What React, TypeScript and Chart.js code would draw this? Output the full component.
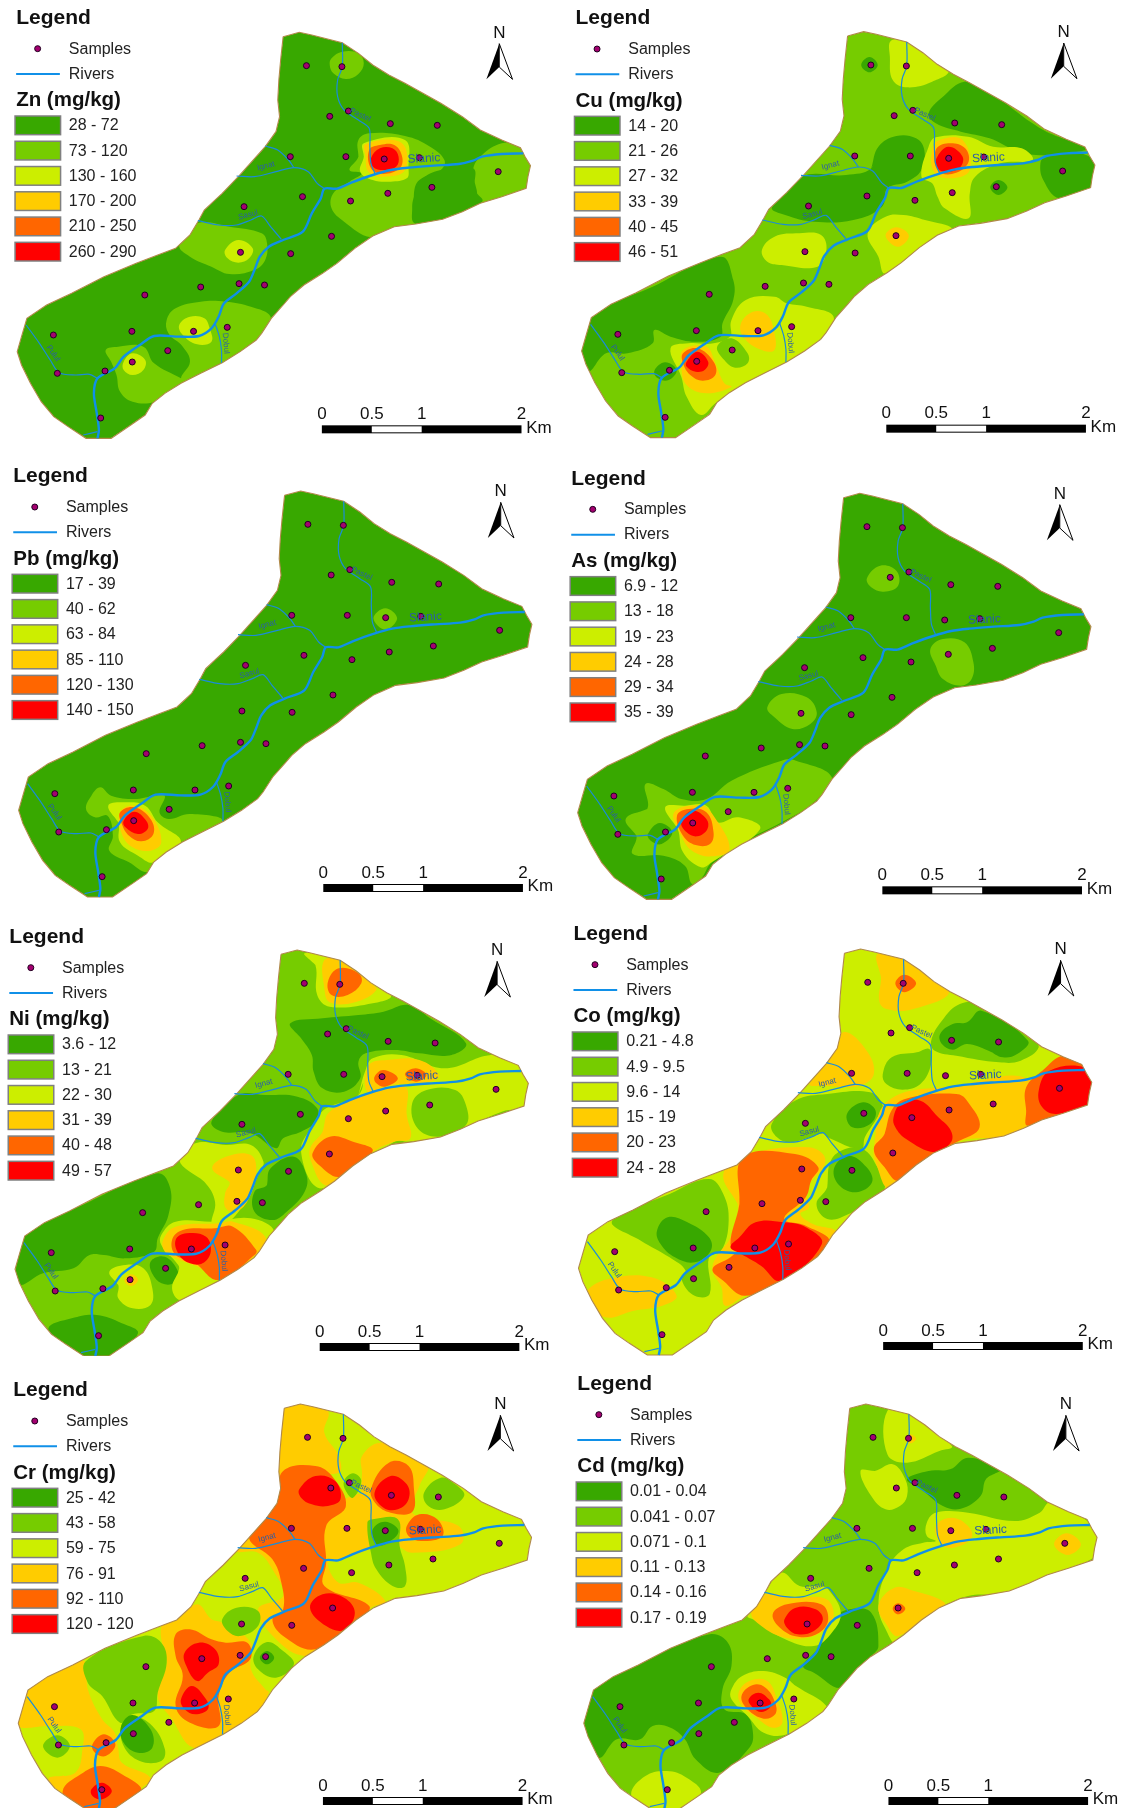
import React, { useEffect, useRef } from "react";
import { Chart, registerables } from "chart.js";
Chart.register(...registerables);

const boundary = [790,110,835,97,870,105,955,128,1000,160,1040,195,1085,225,1130,250,1180,280,1230,310,1290,350,1340,390,1400,420,1452,443,1465,470,1480,497,1473,530,1468,565,1400,590,1340,610,1290,635,1235,658,1160,672,1100,680,1040,708,990,745,940,790,900,820,848,855,810,890,790,915,757,955,730,1000,715,1020,670,1055,620,1088,560,1120,505,1150,460,1180,425,1210,405,1245,365,1275,310,1315,240,1315,190,1280,150,1250,115,1205,85,1150,60,1095,48,1055,60,1010,75,955,130,915,200,880,290,830,380,790,440,765,490,745,530,705,555,660,570,630,620,580,665,530,740,440,770,395,780,350,775,300,778,240,783,180,790,110];
const mainRiver = [1460,460,1400,462,1345,470,1320,482,1280,492,1210,497,1140,503,1090,510,1040,525,980,548,940,566,905,566,895,595,870,640,845,695,790,720,750,740,725,770,710,810,695,845,660,880,625,910,610,950,590,985,555,1008,500,1010,430,1008,390,1035,345,1070,320,1105,272,1135,262,1180,270,1240,276,1290,272,1315];
const tributaries = [
  [955,128,955,200,942,240,942,290,960,330,1000,360,1030,385,1032,440,1035,490,1047,522],
  [740,438,775,450,805,480,820,503],
  [660,528,710,530,770,515,820,503,860,515,885,550,905,566],
  [552,662,610,675,660,675,700,660,730,648,755,680,785,718],
  [600,970,612,1010,618,1050,618,1088],
  [73,975,110,1030,140,1080,165,1118,210,1125,250,1123,272,1135],
  [232,1305,272,1295],
];
const samples = [855,197,954,200,920,349,972,333,1089,371,1220,376,810,470,965,470,1072,477,1170,473,1390,515,1205,562,1082,580,978,603,844,590,681,620,925,709,811,761,671,757,738,855,667,851,560,861,404,885,634,982,540,994,368,994,149,1005,468,1052,369,1086,293,1113,160,1120,281,1254];
const riverNames: [string, number, number, number, number][] = [
  ["Slanic",1183,476,-3,12],["Pastel",1005,345,25,8],["Ignat",742,498,-15,8],["Sasul",692,645,-15,8],["Dobul",630,1030,85,8],["Pulul",148,1060,55,8],
];
const colors = ["#38a800","#76cc00","#ccee00","#ffcc00","#ff6600","#ff0000"];
const scaleTicks = [0,0.5,1,2];

type Zone = [number, number[]];
const znZones: Zone[] = [
  [1,[925,175,955,155,1000,160,1015,190,1000,222,965,237,930,220,920,195]],
  [1,[1400,430,1450,440,1490,500,1470,570,1340,610,1330,570,1320,510,1340,470]],
  [1,[1000,420,1030,400,1130,408,1200,440,1240,480,1230,510,1170,540,1155,580,1160,640,1155,680,1100,690,1035,712,960,665,925,625,930,580,975,545,1010,520,975,510,1000,470]],
  [0,[1155,590,1175,540,1230,510,1320,505,1325,570,1345,605,1235,665,1157,670,1150,625]],
  [2,[1015,430,1130,420,1140,510,1135,535,1090,545,1040,540,1005,515,1015,470]],
  [3,[1020,432,1120,428,1130,510,1070,530,1028,515,1020,470]],
  [4,[1030,450,1060,435,1100,435,1122,470,1115,505,1070,522,1035,505]],
  [5,[1035,475,1060,445,1095,445,1112,470,1105,500,1070,510,1040,500]],
  [1,[500,735,550,670,640,680,730,700,745,730,740,780,710,810,640,822,590,800,530,770]],
  [2,[628,750,665,720,705,745,695,775,665,788,635,775]],
  [1,[465,960,490,925,560,905,630,905,700,920,755,950,730,1000,715,1020,620,1090,525,1145,505,1135,530,1085,510,1040,470,1000]],
  [2,[500,975,530,950,570,955,585,985,590,1025,550,1033,510,1005]],
  [1,[295,1050,330,1040,400,1040,430,1090,505,1135,520,1145,430,1205,370,1205,335,1175,325,1125,310,1085]],
  [2,[345,1085,370,1060,405,1080,400,1110,370,1125,345,1110]],
];
const cuZones: Zone[] = [
  [0,[1020,340,1060,290,1120,245,1180,270,1340,390,1460,445,1400,460,1320,465,1260,450,1190,415,1110,395,1040,370]],
  [0,[1345,470,1420,455,1490,490,1480,565,1385,595,1340,540,1332,490]],
  [0,[880,440,930,408,985,415,1008,450,1000,510,960,545,905,565,890,620,810,660,700,665,620,645,583,622,665,530,790,525,860,505]],
  [0,[75,950,250,860,440,770,475,840,475,900,445,970,440,1010,370,1025,300,1010,255,990,250,1030,180,1060,120,1060,70,1115,48,1050]],
  [0,[832,195,855,171,878,195,855,217]],
  [0,[1192,562,1215,540,1240,562,1215,585]],
  [0,[255,1112,285,1087,317,1110,295,1140,265,1135]],
  [2,[915,122,960,125,1075,210,1030,245,960,262,920,240,912,170]],
  [2,[1020,440,1040,412,1130,410,1200,440,1280,445,1310,480,1220,490,1150,530,1135,580,1132,655,1065,625,1045,590,1030,550,1000,530]],
  [2,[555,750,590,710,660,700,720,705,735,750,710,800,610,795,570,785]],
  [2,[850,700,900,650,950,645,1010,660,1085,685,1040,708,900,820,880,770]],
  [2,[470,960,510,900,590,890,625,910,680,920,755,950,715,1020,620,1088,470,1175,425,1210,385,1245,345,1190,330,1130,300,1045,350,1030,420,1030,470,1005]],
  [1,[430,1040,470,1015,515,1060,515,1090,480,1103,450,1080]],
  [3,[495,975,530,935,570,945,590,1000,590,1050,560,1052,510,1020]],
  [3,[900,707,930,682,965,707,935,740]],
  [3,[1030,450,1050,420,1115,420,1135,510,1080,535,1035,515]],
  [4,[1040,450,1075,430,1122,445,1130,490,1085,522,1045,510]],
  [5,[1042,475,1075,440,1115,470,1105,505,1065,515,1045,505]],
  [3,[335,1050,400,1040,425,1090,450,1150,470,1160,400,1180,345,1155,330,1100]],
  [4,[335,1060,375,1045,420,1085,425,1125,390,1142,355,1125,335,1090]],
  [5,[345,1085,375,1055,405,1085,395,1110,370,1115,345,1100]],
];
const pbZones: Zone[] = [
  [1,[1042,478,1075,448,1108,478,1075,512]],
  [1,[240,1050,255,1010,280,985,310,1010,375,1020,430,1010,460,1010,445,1060,470,1080,530,1065,620,1085,505,1150,430,1210,410,1240,360,1210,305,1175,315,1130,300,1070,265,1075]],
  [2,[302,1040,345,1030,405,1040,440,1090,505,1150,430,1210,385,1190,335,1150,330,1090]],
  [3,[335,1060,375,1040,425,1075,450,1150,420,1175,370,1165,340,1125]],
  [4,[335,1060,375,1045,420,1080,428,1125,395,1147,360,1130,340,1095]],
  [5,[345,1085,375,1058,408,1085,412,1110,385,1125,350,1105]],
];
const asZones: Zone[] = [
  [1,[848,358,885,320,930,335,935,380,895,398,860,385]],
  [1,[1025,570,1060,540,1120,550,1145,610,1140,660,1110,680,1060,660,1040,620]],
  [1,[570,745,610,705,680,715,708,760,690,795,640,810,590,775]],
  [1,[175,1080,235,1050,230,975,280,990,330,1020,400,1020,470,965,610,905,650,905,750,955,700,1030,610,1090,500,1150,415,1210,385,1260,360,1275,340,1220,280,1190,195,1185,205,1130]],
  [2,[285,1045,340,1040,400,1040,430,1090,490,1075,550,1110,415,1210,385,1225,335,1180,320,1110]],
  [3,[310,1060,385,1040,420,1070,465,1170,415,1192,360,1175,330,1130]],
  [4,[318,1070,350,1050,400,1060,420,1120,410,1155,370,1158,335,1130]],
  [5,[330,1090,360,1055,400,1080,403,1110,375,1132,345,1120]],
  [0,[237,1125,270,1092,305,1120,275,1155,245,1145]],
];
const niZones: Zone[] = [
  [0,[810,325,900,310,1000,300,1070,290,1140,270,1200,310,1300,385,1260,420,1170,415,1100,405,1020,415,1000,440,1005,490,960,530,900,520,875,470,870,420,840,370]],
  [0,[590,620,665,540,740,540,830,545,885,580,880,620,840,650,790,670,770,700,700,655,620,650]],
  [0,[70,960,250,860,440,775,475,820,470,900,440,970,430,1010,350,1030,290,1020,250,1020,205,1060,120,1075,55,1110,45,1060]],
  [0,[135,1240,200,1210,270,1200,340,1225,385,1255,310,1325,240,1325,180,1290]],
  [0,[755,760,820,725,855,780,850,830,800,890,760,915,710,890,710,830,745,810]],
  [0,[420,1040,460,1025,497,1070,490,1100,460,1108,430,1085]],
  [2,[1020,465,1040,430,1120,420,1240,460,1370,420,1450,440,1480,497,1470,570,1400,590,1235,665,1140,680,1100,680,900,820,840,710,880,620,910,580,1000,540]],
  [1,[1150,565,1190,525,1270,525,1300,570,1300,630,1225,665,1165,640]],
  [2,[850,115,950,135,1090,240,1040,265,920,275,885,240,880,150]],
  [2,[500,735,545,685,630,690,700,690,735,740,725,770,690,850,650,910,610,940,590,930,600,860,570,800]],
  [2,[450,960,490,920,600,920,700,910,765,950,720,1020,610,1095,505,1155,480,1120,500,1060,490,1040,450,990]],
  [2,[305,1070,350,1050,400,1060,425,1120,420,1170,370,1180,330,1150,330,1110]],
  [3,[1030,450,1080,435,1170,435,1225,480,1200,500,1090,510,1025,530]],
  [3,[920,590,1030,535,1130,515,1135,600,1145,670,1100,680,1040,710,950,790,905,810,870,745,865,700,900,650]],
  [4,[872,715,920,665,985,680,1040,708,950,785,890,750]],
  [4,[1045,485,1070,465,1110,490,1075,515,1050,505]],
  [4,[1130,478,1160,460,1190,480,1160,500]],
  [3,[905,135,955,140,1030,200,1050,225,990,262,920,262,905,220]],
  [4,[915,200,945,160,1000,175,1008,205,970,240,925,240]],
  [3,[592,760,630,725,700,720,715,770,695,850,660,890,630,880,628,835,640,800]],
  [3,[455,975,490,935,610,925,650,920,740,965,715,1020,610,1095,560,1060,490,1030,460,1010]],
  [4,[480,975,510,945,600,940,650,935,715,1005,710,1020,610,1095,540,1040,490,1020]],
  [5,[490,975,520,955,575,965,588,1010,565,1045,530,1045,500,1020]],
  [3,[347,1095,365,1078,385,1095,365,1113]],
];
const coZones: Zone[] = [
  [1,[1030,410,1060,350,1110,300,1170,300,1300,400,1330,430,1280,470,1220,475,1100,455,1040,440]],
  [0,[1055,390,1090,360,1130,355,1170,320,1300,410,1270,450,1230,460,1190,440,1130,420,1090,437,1060,420]],
  [1,[895,510,920,460,990,445,1025,435,1030,480,1000,540,950,557,905,540]],
  [1,[585,660,650,590,740,570,860,565,895,605,880,640,845,700,835,735,740,700,730,688,640,715,600,700]],
  [0,[795,630,840,595,875,620,860,660,810,670]],
  [1,[750,770,790,735,840,735,880,790,900,855,850,890,800,930,740,945,710,900,740,850]],
  [0,[760,790,800,755,850,790,865,835,820,865,770,840]],
  [1,[140,950,300,870,410,825,450,870,465,950,445,1040,410,1060,412,1170,370,1175,335,1130,345,1100,300,1060,220,1010]],
  [0,[265,980,295,940,350,955,410,1000,415,1040,370,1075,315,1060,275,1020]],
  [3,[70,1160,130,1125,250,1120,320,1175,280,1205,200,1220,120,1240,75,1190]],
  [3,[880,150,950,165,1080,260,980,315,905,315,885,290,890,220]],
  [3,[740,470,785,385,850,440,870,510,830,545,730,545,690,540]],
  [3,[450,810,510,755,690,730,735,770,680,860,690,910,665,930,700,960,765,985,715,1055,610,1130,510,1175,455,1205,445,1150,420,1100,430,1060,470,1000,490,900]],
  [3,[870,735,910,590,1100,545,1300,525,1300,660,1235,695,1100,715,950,820,910,855,880,790]],
  [4,[1295,550,1340,500,1400,455,1460,490,1480,535,1470,600,1300,665,1295,620]],
  [5,[1330,560,1360,500,1460,490,1482,535,1470,600,1380,630,1340,610]],
  [4,[925,610,975,580,1100,570,1130,590,1165,670,1100,715,1040,745,940,830,900,790,870,735,900,690]],
  [5,[925,640,945,600,1000,590,1050,640,1085,680,1085,715,1040,745,960,705,930,670]],
  [4,[505,760,650,750,715,790,695,830,680,880,620,945,680,965,745,1015,610,1130,510,1175,450,1130,420,1095,470,1060,495,1030,470,1020,495,900]],
  [5,[495,1000,540,955,620,955,680,970,725,1020,610,1130,555,1085,500,1050,470,1030]],
  [4,[930,238,955,212,988,238,955,265]],
];
const crZones: Zone[] = [
  [3,[790,155,845,140,915,165,905,230,945,300,945,350,830,350,780,400,770,360,780,240]],
  [3,[1010,300,1060,260,1130,290,1195,325,1170,390,1150,470,1280,510,1285,565,1150,590,1110,570,1030,540,1010,430,1010,350]],
  [3,[900,480,960,430,1020,420,1040,560,950,610,915,620,945,680,1000,680,1075,735,1035,755,900,860,850,900,770,850,720,760,790,720,760,640,720,590,660,585,700,540,760,480,790,400,830,350,900,400]],
  [3,[450,810,490,795,550,745,590,790,620,800,700,860,700,940,740,1000,750,1010,715,1070,620,1135,540,1175,480,1090,440,1020,465,920]],
  [3,[80,1000,150,945,235,915,245,1000,285,1090,320,1130,330,1180,340,1220,420,1265,390,1300,330,1360,200,1360,135,1270,210,1250,230,1180,225,1120,140,1110,60,1115,50,1100]],
  [4,[790,345,880,330,930,365,965,450,910,510,910,620,905,690,1030,750,990,800,880,880,790,840,760,790,790,760,785,680,760,610,695,545,745,480,775,430]],
  [5,[835,400,880,360,935,375,950,430,915,450,870,445,840,425]],
  [5,[865,755,900,715,960,725,990,770,960,822,910,810]],
  [4,[1035,400,1085,320,1140,330,1155,400,1150,468,1090,470,1050,445]],
  [5,[1045,410,1090,360,1135,385,1140,430,1110,460,1070,455]],
  [4,[1135,510,1170,475,1220,490,1235,540,1175,555,1140,540]],
  [4,[490,835,530,820,590,850,630,860,690,860,698,910,640,950,610,1020,610,1110,530,1100,490,1050,510,960,490,900]],
  [5,[515,890,555,860,600,880,610,925,580,950,550,975,520,930]],
  [5,[505,1030,535,990,575,1030,580,1060,545,1075,515,1060]],
  [4,[258,1165,290,1135,322,1165,295,1200,265,1190]],
  [4,[175,1305,225,1255,280,1230,340,1255,395,1305,330,1360,210,1360]],
  [5,[255,1300,285,1280,312,1305,285,1330,258,1320]],
  [1,[240,915,400,840,450,860,465,920,440,1010,430,1065,370,1075,335,1100,285,1020,245,980]],
  [1,[340,1105,370,1080,425,1110,460,1180,450,1215,390,1215,345,1170]],
  [0,[338,1110,370,1077,420,1120,425,1175,385,1190,345,1160]],
  [1,[120,1170,160,1138,195,1170,160,1205]],
  [1,[620,790,660,755,720,765,720,810,670,840,635,825]],
  [1,[708,900,745,858,790,885,820,925,770,965,720,940]],
  [0,[725,905,745,885,765,905,745,925]],
  [1,[1025,500,1040,490,1110,490,1115,570,1130,630,1130,690,1095,690,1050,640,1035,590]],
  [0,[1040,520,1075,497,1112,525,1075,565,1050,565]],
  [1,[1183,410,1230,365,1270,385,1295,420,1240,460,1195,450]],
  [1,[960,375,985,352,1008,375,985,425,965,405]],
];
const cdZones: Zone[] = [
  [0,[960,370,1020,345,1080,340,1130,305,1220,340,1180,370,1165,420,1110,458,1060,450,1000,400]],
  [0,[85,1000,250,900,410,835,460,860,470,930,445,1000,450,1060,510,1075,530,1130,520,1175,435,1250,370,1210,340,1150,300,1115,250,1110,215,1150,150,1150,100,1205,60,1110]],
  [0,[750,790,800,760,860,770,880,870,860,900,780,995,700,950,670,930,710,880,740,820]],
  [2,[905,165,965,175,1085,270,1050,285,960,320,905,295]],
  [2,[830,345,870,345,920,325,955,370,960,420,940,450,900,460,860,420]],
  [2,[1015,500,1040,470,1130,470,1260,495,1330,470,1360,440,1470,500,1495,545,1480,605,1240,710,1130,720,1040,765,930,860,905,830,880,750,905,640,950,580,1005,560,1040,555,1015,540]],
  [2,[565,705,610,650,660,690,720,690,740,700,775,770,750,830,700,870,620,850,530,790,515,780]],
  [2,[470,1000,500,960,560,945,620,965,650,990,735,1050,715,1075,625,1135,560,1130,515,1080,470,1030]],
  [2,[190,1315,230,1260,290,1245,345,1265,385,1310,330,1360,230,1360]],
  [3,[1040,510,1085,485,1130,510,1140,545,1090,575,1055,565]],
  [3,[1370,565,1405,532,1445,565,1408,597]],
  [3,[880,750,925,695,980,705,1065,740,1040,765,935,840,905,810]],
  [4,[920,758,935,742,955,758,935,775]],
  [3,[953,248,967,235,985,248,967,262]],
  [3,[525,770,565,715,640,725,735,730,755,785,725,825,680,845,620,845,560,815]],
  [4,[585,775,625,745,720,745,740,790,715,830,660,843,610,820]],
  [5,[618,790,650,755,705,760,725,790,700,825,655,835,625,815]],
  [3,[490,1010,520,975,570,975,597,1030,612,1100,585,1115,540,1085,500,1050]],
  [4,[498,1020,530,987,565,995,592,1040,592,1075,560,1088,515,1060]],
  [5,[518,1030,545,1010,575,1030,580,1050,555,1068,530,1055]],
];

const znRanges = ["28 - 72","73 - 120","130 - 160","170 - 200","210 - 250","260 - 290"];
const cuRanges = ["14 - 20","21 - 26","27 - 32","33 - 39","40 - 45","46 - 51"];
const pbRanges = ["17 - 39","40 - 62","63 - 84","85 - 110","120 - 130","140 - 150"];
const asRanges = ["6.9 - 12","13 - 18","19 - 23","24 - 28","29 - 34","35 - 39"];
const niRanges = ["3.6 - 12","13 - 21","22 - 30","31 - 39","40 - 48","49 - 57"];
const coRanges = ["0.21 - 4.8","4.9 - 9.5","9.6 - 14","15 - 19","20 - 23","24 - 28"];
const crRanges = ["25 - 42","43 - 58","59 - 75","76 - 91","92 - 110","120 - 120"];
const cdRanges = ["0.01 - 0.04","0.041 - 0.07","0.071 - 0.1","0.11 - 0.13","0.14 - 0.16","0.17 - 0.19"];

interface Panel { title: string; base: number; zones: Zone[]; ranges: string[]; left: number; top: number; shift: [number, number]; legendShift: [number, number]; }
const panels: Panel[] = [
  { title: "Zn (mg/kg)", base: 0, zones: znZones, ranges: znRanges, left: 0, top: 0, shift: [0,0], legendShift: [0,0] },
  { title: "Cu (mg/kg)", base: 1, zones: cuZones, ranges: cuRanges, left: 563, top: 0, shift: [4,-2], legendShift: [-10,1] },
  { title: "Pb (mg/kg)", base: 0, zones: pbZones, ranges: pbRanges, left: 0, top: 459, shift: [4,-1], legendShift: [-8,-2] },
  { title: "As (mg/kg)", base: 0, zones: asZones, ranges: asRanges, left: 563, top: 459, shift: [-7,6], legendShift: [-22,5] },
  { title: "Ni (mg/kg)", base: 1, zones: niZones, ranges: niRanges, left: 0, top: 915, shift: [-6,8], legendShift: [-19,12] },
  { title: "Co (mg/kg)", base: 2, zones: coZones, ranges: coRanges, left: 562, top: 904, shift: [-2,38], legendShift: [-13,36] },
  { title: "Cr (mg/kg)", base: 2, zones: crZones, ranges: crRanges, left: 0, top: 1356, shift: [3,47], legendShift: [-8,49] },
  { title: "Cd (mg/kg)", base: 1, zones: cdZones, ranges: cdRanges, left: 563, top: 1356, shift: [10,47], legendShift: [-5,30] },
];

const CANVAS_W = 562, CANVAS_H = 452, UNITS_X = 1568, UNITS_Y = 1356;
const FONT = '"Liberation Sans", Arial, sans-serif';
const RIVER = "#1090e8";

function pairs(flat: number[], dx = 0, dy = 0) {
  const out: { x: number; y: number }[] = [];
  for (let i = 0; i < flat.length; i += 2) out.push({ x: flat[i] + dx, y: flat[i + 1] + dy });
  return out;
}

function buildDatasets(p: Panel) {
  const [sx, sy] = p.shift;
  const outline = pairs(boundary, sx, sy);
  const shape = (data: any[], color: string, tension: number) => ({
    data, showLine: true, fill: "shape", backgroundColor: color, borderColor: "rgba(0,0,0,0)", borderWidth: 0, pointRadius: 0, tension,
  });
  const ds: any[] = [shape(outline, colors[p.base], 0)];
  for (const [level, pts] of p.zones) {
    const d = pairs(pts);
    // wrap round the loop so that the join of the smoothed curve has no cusp
    ds.push(shape([d[d.length - 1], ...d, d[0], d[1]], colors[level], 0.4));
  }
  const mask = [{ x: -60, y: -60 }, { x: -60, y: UNITS_Y + 60 }, { x: UNITS_X + 60, y: UNITS_Y + 60 }, { x: UNITS_X + 60, y: -60 }, { x: -60, y: -60 }, ...outline, { x: -60, y: -60 }];
  ds.push(shape(mask, "#ffffff", 0));
  ds.push({ data: outline, showLine: true, fill: false, borderColor: "#b08848", borderWidth: 1.1, pointRadius: 0 });
  for (const t of tributaries) ds.push({ data: pairs(t, sx, sy), showLine: true, fill: false, borderColor: "#1a8cd8", borderWidth: 1.2, pointRadius: 0, tension: 0.3 });
  ds.push({ data: pairs(mainRiver, sx, sy), showLine: true, fill: false, borderColor: RIVER, borderWidth: 2.4, pointRadius: 0, tension: 0.3 });
  ds.push({ data: pairs(samples, sx, sy), showLine: false, pointRadius: 3, pointBackgroundColor: "#a3006f", pointBorderColor: "#200020", pointBorderWidth: 1 });
  // Chart.js paints dataset 0 last, so the painter's order is reversed here.
  return ds.reverse();
}

function makeDecor(p: Panel) {
  return {
    id: "decor",
    afterDraw(chart: any) {
      const ctx: CanvasRenderingContext2D = chart.ctx;
      const X = (v: number) => chart.scales.x.getPixelForValue(v);
      const Y = (v: number) => chart.scales.y.getPixelForValue(v);
      const [sx, sy] = p.shift;
      const [lx, ly] = p.legendShift;
      ctx.save();
      ctx.textBaseline = "middle";
      ctx.textAlign = "left";
      ctx.fillStyle = "#2a5fa5";
      for (const [name, x, y, rot, size] of riverNames) {
        ctx.save();
        ctx.translate(X(x + sx), Y(y + sy));
        ctx.rotate((rot * Math.PI) / 180);
        ctx.font = `${size}px ${FONT}`;
        ctx.textAlign = "center";
        ctx.fillText(name, 0, 0);
        ctx.restore();
      }
      ctx.fillStyle = "#111";
      ctx.font = `bold 21px ${FONT}`;
      ctx.fillText("Legend", X(45 + lx), Y(55 + ly));
      ctx.font = `16px ${FONT}`;
      ctx.fillStyle = "#222";
      ctx.fillText("Samples", X(192 + lx), Y(148 + ly));
      ctx.fillText("Rivers", X(192 + lx), Y(223 + ly));
      ctx.beginPath();
      ctx.arc(X(105 + lx), Y(146 + ly), 3, 0, Math.PI * 2);
      ctx.fillStyle = "#a3006f";
      ctx.fill();
      ctx.strokeStyle = "#200020";
      ctx.lineWidth = 1;
      ctx.stroke();
      ctx.strokeStyle = RIVER;
      ctx.lineWidth = 2;
      ctx.beginPath();
      ctx.moveTo(X(45 + lx), Y(222 + ly));
      ctx.lineTo(X(167 + lx), Y(222 + ly));
      ctx.stroke();
      ctx.fillStyle = "#111";
      ctx.font = `bold 20.5px ${FONT}`;
      ctx.fillText(p.title, X(45 + lx), Y(302 + ly));
      ctx.font = `16px ${FONT}`;
      p.ranges.forEach((label, i) => {
        const top = 348 + 75.8 * i + ly;
        ctx.fillStyle = colors[i];
        ctx.strokeStyle = "#808080";
        ctx.lineWidth = 1.5;
        ctx.fillRect(X(42 + lx), Y(top), X(169 + lx) - X(42 + lx), Y(top + 56) - Y(top));
        ctx.strokeRect(X(42 + lx), Y(top), X(169 + lx) - X(42 + lx), Y(top + 56) - Y(top));
        ctx.fillStyle = "#222";
        ctx.fillText(label, X(192 + lx), Y(top + 30));
      });
      const nx = 1392 + sx + 1, ny = sy + 1;
      ctx.fillStyle = "#111";
      ctx.font = `17px ${FONT}`;
      ctx.textAlign = "center";
      ctx.fillText("N", X(nx), Y(98 + ny));
      ctx.beginPath();
      ctx.moveTo(X(nx), Y(130 + ny));
      ctx.lineTo(X(nx - 36), Y(237 + ny));
      ctx.lineTo(X(nx), Y(200 + ny));
      ctx.closePath();
      ctx.fillStyle = "#000";
      ctx.fill();
      ctx.beginPath();
      ctx.moveTo(X(nx), Y(130 + ny));
      ctx.lineTo(X(nx + 37), Y(237 + ny));
      ctx.lineTo(X(nx), Y(200 + ny));
      ctx.closePath();
      ctx.fillStyle = "#fff";
      ctx.fill();
      ctx.strokeStyle = "#000";
      ctx.lineWidth = 1;
      ctx.stroke();
      const km = (v: number) => X(898 + sx + v * 278.5);
      const top = Y(1276 + sy), h = Y(1300 + sy) - top;
      ctx.fillStyle = "#000";
      ctx.fillRect(km(0), top, km(2) - km(0), h);
      ctx.fillStyle = "#fff";
      ctx.fillRect(km(0.5), top + 1, km(1) - km(0.5), h - 2);
      ctx.fillStyle = "#111";
      ctx.font = `17px ${FONT}`;
      ctx.textAlign = "center";
      for (const t of scaleTicks) ctx.fillText(String(t), km(t), Y(1243 + sy));
      ctx.textAlign = "left";
      ctx.fillText("Km", X(1468 + sx), Y(1284 + sy));
      ctx.restore();
    },
  };
}

function MapPanel({ p }: { p: Panel }) {
  const ref = useRef<HTMLCanvasElement>(null);
  useEffect(() => {
    const chart = new Chart(ref.current!, {
      type: "scatter",
      data: { datasets: buildDatasets(p) },
      options: {
        animation: false,
        responsive: false,
        events: [],
        layout: { padding: 0, autoPadding: false },
        scales: {
          x: { type: "linear", display: false, min: 0, max: UNITS_X },
          y: { type: "linear", display: false, min: 0, max: UNITS_Y, reverse: true },
        },
        plugins: { legend: { display: false }, tooltip: { enabled: false } },
      },
      plugins: [makeDecor(p)],
    } as any);
    return () => chart.destroy();
  }, [p]);
  return (
    <canvas ref={ref} width={CANVAS_W} height={CANVAS_H}
      style={{ position: "absolute", left: p.left, top: p.top, width: CANVAS_W, height: CANVAS_H }} />
  );
}

export default function App() {
  return (
    <div style={{ position: "absolute", left: 0, top: 0, width: 1123, height: 1808, background: "#fff", overflow: "hidden" }}>
      {panels.map((p) => <MapPanel key={p.title} p={p} />)}
    </div>
  );
}
